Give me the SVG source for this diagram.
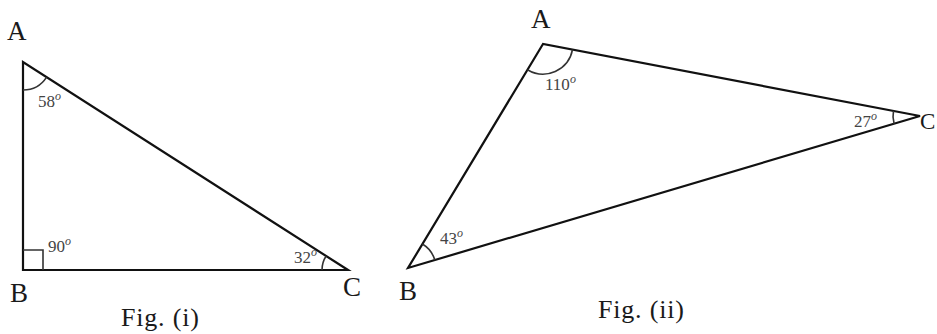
<svg xmlns="http://www.w3.org/2000/svg" width="937" height="334" viewBox="0 0 937 334">
<style>
.side{fill:none;stroke:#111;stroke-width:2.2;stroke-linejoin:miter}
.arc{fill:none;stroke:#333;stroke-width:1.6}
.v{font-family:"Liberation Serif","DejaVu Serif",serif;font-size:27px;fill:#1a1a1a}
.ang{font-family:"Liberation Serif","DejaVu Serif",serif;font-size:17px;fill:#444}
.deg{font-style:italic;font-size:12px}
.cap{font-family:"Liberation Serif","DejaVu Serif",serif;font-size:26px;fill:#1a1a1a;letter-spacing:0.8px}
</style>
<rect width="937" height="334" fill="#fff"/>
<g id="fig1">
  <polygon class="side" points="23,62 23,270 348,270"/>
  <g id="angles1">
    <path class="arc" d="M23,90 A28,28 0 0 0 46.6,77.1"/>
    <path class="arc" d="M23,250 H43 V270"/>
    <path class="arc" d="M322,270 A26,26 0 0 1 326.1,256"/>
  </g>
  <text class="v" x="7" y="40">A</text>
  <text class="v" x="10" y="302">B</text>
  <text class="v" x="343" y="296">C</text>
  <text class="ang" x="38" y="107">58<tspan class="deg" dy="-7">o</tspan></text>
  <text class="ang" x="48" y="252">90<tspan class="deg" dy="-7">o</tspan></text>
  <text class="ang" x="294" y="263">32<tspan class="deg" dy="-7">o</tspan></text>
  <text class="cap" x="121" y="326">Fig. (i)</text>
</g>
<g id="fig2">
  <polygon class="side" points="543,44 408,268 920,116"/>
  <g id="angles2">
    <path class="arc" d="M527.5,69.7 A30,30 0 0 0 572.5,49.6"/>
    <path class="arc" d="M422.4,244 A28,28 0 0 1 434.8,260"/>
    <path class="arc" d="M893.5,110.9 A27,27 0 0 0 894.1,123.7"/>
  </g>
  <text class="v" x="531" y="28">A</text>
  <text class="v" x="399" y="300">B</text>
  <text class="v" x="920" y="129" style="font-size:23px">C</text>
  <text class="ang" x="545" y="90">110<tspan class="deg" dy="-7">o</tspan></text>
  <text class="ang" x="440" y="244">43<tspan class="deg" dy="-7">o</tspan></text>
  <text class="ang" x="854" y="127">27<tspan class="deg" dy="-7">o</tspan></text>
  <text class="cap" x="598" y="318">Fig. (ii)</text>
</g>
</svg>
